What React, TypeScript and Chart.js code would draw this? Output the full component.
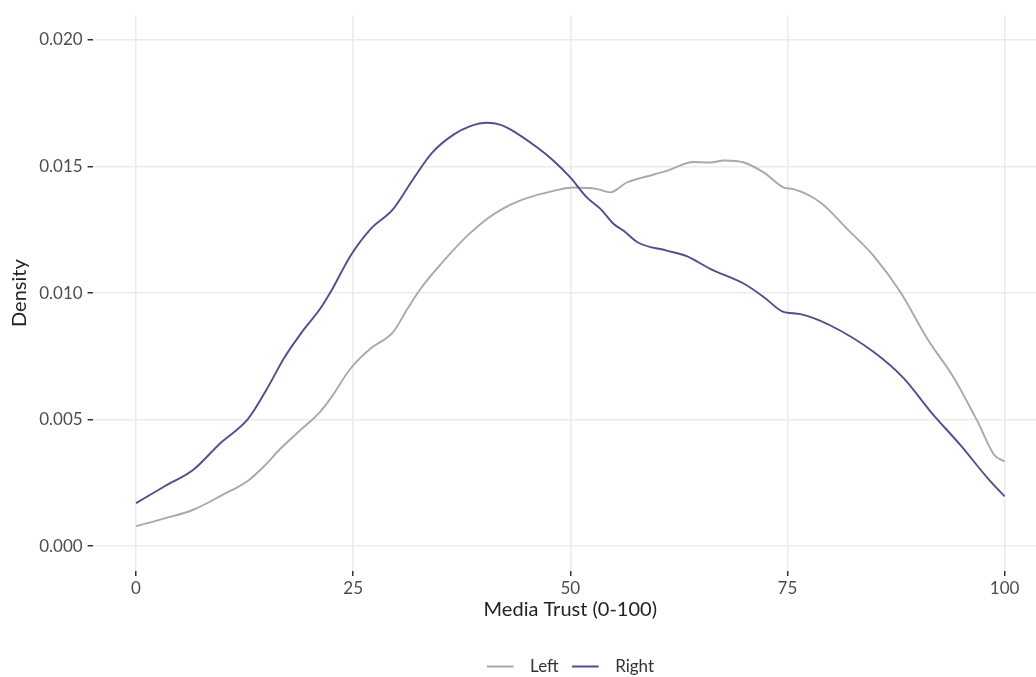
import React, { useEffect, useRef } from "react";
import { Chart, registerables } from "chart.js";

Chart.register(...registerables);

const seriesNames = ["Left", "Right"];
const xTicks = [0, 25, 50, 75, 100];
const yTicks = [0, 0.005, 0.01, 0.015, 0.02];

const leftX = [0, 3.3, 6.6, 9.8, 12.9, 14.8, 16.5, 18.9, 21.2, 22.4, 24.7, 27.0, 29.6, 31.2, 32.7, 34.6, 36.4, 38.4, 40.4, 42.3, 44.2, 46.2, 48.1, 50.4, 53.1, 54.6, 56.5, 58.4, 61.1, 64.2, 66.1, 67.7, 70.0, 72.3, 74.6, 75.7, 78.8, 81.9, 84.9, 88.0, 91.1, 94.2, 96.9, 98.8, 100];
const leftY = [0.00079, 0.00110, 0.00144, 0.00200, 0.00259, 0.00318, 0.00381, 0.00458, 0.00531, 0.00584, 0.00702, 0.00781, 0.00846, 0.00935, 0.01014, 0.01095, 0.01165, 0.01235, 0.01293, 0.01335, 0.01365, 0.01388, 0.01404, 0.01417, 0.01411, 0.01398, 0.01437, 0.01457, 0.01483, 0.01518, 0.01516, 0.01524, 0.01516, 0.01476, 0.01417, 0.01411, 0.01358, 0.01253, 0.01148, 0.01004, 0.00820, 0.00663, 0.00492, 0.00361, 0.00335];

const rightX = [0, 3.3, 6.6, 9.7, 12.9, 15.1, 17.0, 19.1, 21.2, 22.4, 24.7, 27.0, 29.6, 31.9, 34.1, 36.6, 38.5, 40.4, 42.0, 43.1, 46.2, 48.1, 50.0, 51.9, 53.5, 55.0, 56.1, 57.9, 61.1, 63.4, 66.1, 70.0, 72.3, 74.4, 76.5, 79.9, 84.9, 88.4, 91.5, 94.9, 98.2, 100];
const rightY = [0.00170, 0.00237, 0.00302, 0.00407, 0.00503, 0.00623, 0.00741, 0.00846, 0.00938, 0.01004, 0.01148, 0.01253, 0.01332, 0.01450, 0.01555, 0.01627, 0.01660, 0.01673, 0.01665, 0.01647, 0.01575, 0.01522, 0.01457, 0.01378, 0.01332, 0.01273, 0.01247, 0.01198, 0.01168, 0.01146, 0.01096, 0.01037, 0.00984, 0.00928, 0.00917, 0.00873, 0.00768, 0.00663, 0.00531, 0.00400, 0.00263, 0.00197];

const COLORS = ["#a9a9a9", "#5b4a8b"];
const FONT = "Lato, 'Open Sans', sans-serif";

function legendLine(color: string): HTMLCanvasElement {
  const c = document.createElement("canvas");
  c.width = 35;
  c.height = 4;
  const g = c.getContext("2d")!;
  g.fillStyle = color;
  g.fillRect(0, 1, 27, 2);
  return c;
}

export default function App() {
  const ref = useRef<HTMLCanvasElement | null>(null);

  useEffect(() => {
    if (!ref.current) return;
    const markers = COLORS.map(legendLine);
    const chart = new Chart(ref.current, {
      type: "line",
      data: {
        datasets: [
          {
            label: seriesNames[0],
            data: leftX.map((x, i) => ({ x, y: leftY[i] })),
            borderColor: COLORS[0],
            backgroundColor: COLORS[0],
            borderWidth: 1.9,
            pointRadius: 0,
            cubicInterpolationMode: "monotone",
            fill: false,
            order: 1,
          },
          {
            label: seriesNames[1],
            data: rightX.map((x, i) => ({ x, y: rightY[i] })),
            borderColor: COLORS[1],
            backgroundColor: COLORS[1],
            borderWidth: 1.9,
            pointRadius: 0,
            cubicInterpolationMode: "monotone",
            fill: false,
            order: 0,
          },
        ],
      },
      options: {
        responsive: false,
        animation: false,
        layout: { padding: { top: 12, right: 0, left: 0, bottom: 0 } },
        plugins: {
          tooltip: { enabled: false },
          legend: {
            position: "bottom",
            fullSize: false,
            labels: {
              usePointStyle: true,
              pointStyleWidth: 35,
              padding: 13,
              color: "#333333",
              font: { family: FONT, size: 17 },
              sort: (a: any, b: any) => a.datasetIndex - b.datasetIndex,
              generateLabels: (ch: any) => {
                const items = Chart.defaults.plugins.legend.labels.generateLabels(ch);
                return items.map((it: any) => ({ ...it, pointStyle: markers[it.datasetIndex] }));
              },
            },
          },
        },
        scales: {
          x: {
            type: "linear",
            min: -5,
            max: 105,
            afterBuildTicks: (s: any) => {
              s.ticks = xTicks.map((v) => ({ value: v }));
            },
            afterFit: (s: any) => {
              s.height = 74;
            },
            border: { display: false },
            grid: { color: "#ebebeb", lineWidth: 1.5, tickColor: "#333333", tickWidth: 1.5, tickLength: 5 },
            ticks: {
              color: "#4d4d4d",
              font: { family: FONT, size: 17 },
              padding: 2,
              maxRotation: 0,
              callback: (v: any) => String(v),
            },
            title: {
              display: true,
              text: "Media Trust (0-100)",
              color: "#222222",
              font: { family: FONT, size: 20 },
              padding: { top: 0, bottom: 23 },
            },
          },
          y: {
            type: "linear",
            min: -0.00098,
            max: 0.02098,
            afterBuildTicks: (s: any) => {
              s.ticks = yTicks.map((v) => ({ value: v }));
            },
            afterFit: (s: any) => {
              s.width = 92.6;
            },
            border: { display: false },
            grid: { color: "#ebebeb", lineWidth: 1.5, tickColor: "#333333", tickWidth: 1.5, tickLength: 5 },
            ticks: {
              color: "#4d4d4d",
              font: { family: FONT, size: 17 },
              padding: 5,
              callback: (v: any) => Number(v).toFixed(3),
            },
            title: {
              display: true,
              text: "Density",
              color: "#222222",
              font: { family: FONT, size: 20 },
              padding: { top: 8, bottom: 0 },
            },
          },
        },
      },
    });
    return () => chart.destroy();
  }, []);

  return (
    <div style={{ position: "absolute", left: 0, top: 0, width: 1036, height: 677, overflow: "hidden", background: "#ffffff" }}>
      <canvas ref={ref} width={1048} height={685} style={{ display: "block", width: 1048, height: 685 }} />
    </div>
  );
}
